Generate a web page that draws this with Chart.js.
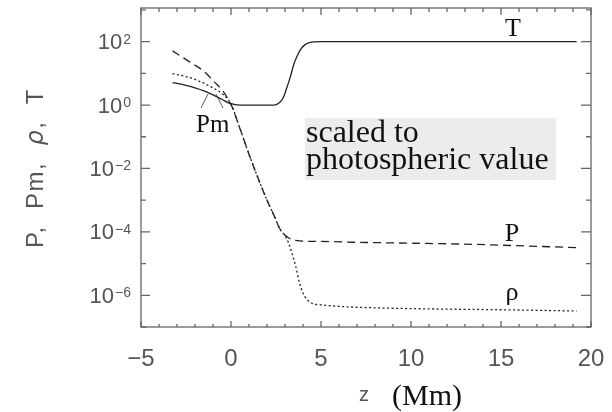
<!DOCTYPE html>
<html>
<head>
<meta charset="utf-8">
<script src="https://cdn.jsdelivr.net/npm/chart.js@4"></script>
<style>
  html, body { margin: 0; padding: 0; background: #fff; }
  #wrap { width: 612px; height: 412px; }
</style>
</head>
<body>
<div id="wrap"><canvas id="atmChart" width="612" height="412"></canvas></div>
<script>
// height z in Mm, quantities scaled to their photospheric value
const zT = [-3.25, -2.5, -2, -1.5, -1, -0.5, 0, 0.5, 1, 1.5, 2, 2.4, 2.7, 2.9, 3.1, 3.3, 3.5, 3.7, 3.9, 4.1, 4.3, 4.6, 5, 10, 15, 19.2];
const T = [5.1, 4.2, 3.5, 2.8, 2.1, 1.5, 1.1, 1.0, 1.0, 1.0, 1.0, 1.0, 1.2, 1.7, 3.5, 7.9, 20, 38, 60, 79, 91, 98, 100, 100, 100, 100];

const zP = [-3.25, -2.3, -1.5, -0.9, -0.45, -0.15, 0, 0.5, 1, 1.5, 2, 2.4, 2.7, 2.9, 3.1, 3.3, 3.6, 4, 5, 7, 10, 13, 15, 17, 19.2];
const P = [51, 23, 11.5, 5.2, 2.8, 1.48, 1.05, 0.18, 0.028, 5.0e-3, 1.0e-3, 3.2e-4, 1.3e-4, 8.9e-5, 7.1e-5, 6.0e-5, 5.4e-5, 5.1e-5, 5.0e-5, 4.7e-5, 4.4e-5, 4.1e-5, 3.8e-5, 3.5e-5, 3.2e-5];

const zRho = [-3.25, -2.5, -1.83, -1.06, -0.5, 0, 0.5, 1, 1.5, 2, 2.4, 2.7, 3.0, 3.2, 3.4, 3.6, 3.8, 4.0, 4.2, 4.5, 5, 5.7, 7, 10, 15, 19.2];
const rho = [9.8, 7.9, 5.9, 3.6, 2.3, 1.07, 0.18, 0.028, 5.0e-3, 1.0e-3, 3.2e-4, 1.26e-4, 7.6e-5, 4.5e-5, 2.0e-5, 7.9e-6, 2.5e-6, 1.17e-6, 7.6e-7, 5.6e-7, 5.0e-7, 4.6e-7, 4.2e-7, 3.8e-7, 3.5e-7, 3.2e-7];

const xTickLabels = [-5, 0, 5, 10, 15, 20];
const yTickExponents = [2, 0, -2, -4, -6];

const toPoints = (zs, vs) => zs.map((z, i) => ({ x: z, y: vs[i] }));

const lineStyle = {
    showLine: true,
    pointRadius: 0,
    borderWidth: 1.3,
    borderColor: "#222",
    cubicInterpolationMode: "monotone",
};

// box, ticks and all text are drawn by hand on top of the plot
const frame = {
    id: "frame",
    afterDraw(chart) {
        const { ctx, chartArea: a, scales } = chart;
        const x = scales.x, y = scales.y;
        ctx.save();

        // axis box
        ctx.strokeStyle = "#666";
        ctx.lineWidth = 1.3;
        ctx.strokeRect(a.left, a.top, a.right - a.left, a.bottom - a.top);

        // inward ticks
        ctx.beginPath();
        for (let z = -5; z <= 20; z++) {
            const px = x.getPixelForValue(z);
            const major = z % 5 === 0;
            ctx.moveTo(px, a.bottom);
            ctx.lineTo(px, a.bottom - (major ? 6 : 3));
            ctx.moveTo(px, a.top);
            ctx.lineTo(px, a.top + (major ? 7 : 4));
        }
        for (let e = -7; e <= 3; e++) {
            const py = y.getPixelForValue(Math.pow(10, e));
            if (py < a.top - 0.5) continue;
            const major = e % 2 === 0;
            ctx.moveTo(a.left, py);
            ctx.lineTo(a.left + (major ? 9 : 5), py);
            ctx.moveTo(a.right, py);
            ctx.lineTo(a.right - (major ? 10 : 5), py);
        }
        ctx.stroke();

        // x tick labels
        ctx.fillStyle = "#555";
        ctx.font = "24px 'Liberation Sans'";
        ctx.textAlign = "center";
        ctx.textBaseline = "alphabetic";
        xTickLabels.forEach((v) => {
            const txt = v < 0 ? "\u2212" + (-v) : String(v);
            ctx.fillText(txt, x.getPixelForValue(v), 366);
        });

        // y tick labels as 10 with a raised exponent
        ctx.textAlign = "left";
        yTickExponents.forEach((e) => {
            const py = y.getPixelForValue(Math.pow(10, e));
            const exp = e < 0 ? "\u2212" + (-e) : String(e);
            ctx.font = "22px 'Liberation Sans'";
            const w1 = ctx.measureText("10").width;
            ctx.font = "14px 'Liberation Sans'";
            const w2 = ctx.measureText(exp).width;
            const x0 = 131 - w1 - w2 - 1;
            ctx.font = "22px 'Liberation Sans'";
            ctx.fillText("10", x0, py + 7.5);
            ctx.font = "14px 'Liberation Sans'";
            ctx.fillText(exp, x0 + w1 + 1, py + 2);
        });

        // y axis title, rotated
        ctx.save();
        ctx.translate(43, 168);
        ctx.rotate(-Math.PI / 2);
        ctx.letterSpacing = "1.5px";
        const parts = [
            ["P,  Pm,  ", "24px 'Liberation Sans'"],
            ["\u03c1", "italic 24px 'DejaVu Sans'"],
            [",  T", "24px 'Liberation Sans'"],
        ];
        let total = 0;
        parts.forEach(([t, f]) => { ctx.font = f; total += ctx.measureText(t).width; });
        let cx = -total / 2;
        parts.forEach(([t, f]) => {
            ctx.font = f;
            ctx.fillText(t, cx, 0);
            cx += ctx.measureText(t).width;
        });
        ctx.restore();

        // x axis title
        ctx.fillStyle = "#555";
        ctx.font = "20px 'Liberation Sans'";
        ctx.fillText("z", 359, 401);
        ctx.fillStyle = "#111";
        ctx.font = "30px 'Liberation Serif'";
        ctx.fillText("(Mm)", 392, 405);

        // curve labels
        ctx.font = "26px 'Liberation Serif'";
        ctx.textAlign = "center";
        ctx.fillText("T", 513, 36);
        ctx.fillText("P", 512, 241);
        ctx.fillText("\u03c1", 512, 300);
        ctx.font = "25px 'Liberation Serif'";
        ctx.textAlign = "left";
        ctx.fillText("Pm", 196, 132);

        // leader lines from Pm
        ctx.strokeStyle = "#444";
        ctx.lineWidth = 0.9;
        ctx.beginPath();
        ctx.moveTo(201, 108);
        ctx.lineTo(208, 94);
        ctx.moveTo(223, 108);
        ctx.lineTo(216, 94);
        ctx.stroke();

        // note box
        ctx.fillStyle = "#ececec";
        ctx.fillRect(305, 118, 251, 62);
        ctx.fillStyle = "#111";
        ctx.font = "32px 'Liberation Serif'";
        ctx.fillText("scaled to", 306, 142);
        ctx.fillText("photospheric value", 306, 169);

        ctx.restore();
    },
};

new Chart(document.getElementById("atmChart"), {
    type: "scatter",
    data: {
        datasets: [
            { label: "T", data: toPoints(zT, T), ...lineStyle },
            { label: "P", data: toPoints(zP, P), ...lineStyle, borderDash: [8, 5] },
            { label: "rho", data: toPoints(zRho, rho), ...lineStyle, borderDash: [2, 2.5] },
        ],
    },
    options: {
        responsive: false,
        animation: false,
        devicePixelRatio: 1,
        layout: { padding: { left: 141, right: 21, top: 8, bottom: 85 } },
        scales: {
            x: { type: "linear", min: -5, max: 20, display: false },
            y: { type: "logarithmic", min: 1e-7, max: 1150, display: false },
        },
        plugins: {
            legend: { display: false },
            tooltip: { enabled: false },
        },
    },
    plugins: [frame],
});
</script>
</body>
</html>
